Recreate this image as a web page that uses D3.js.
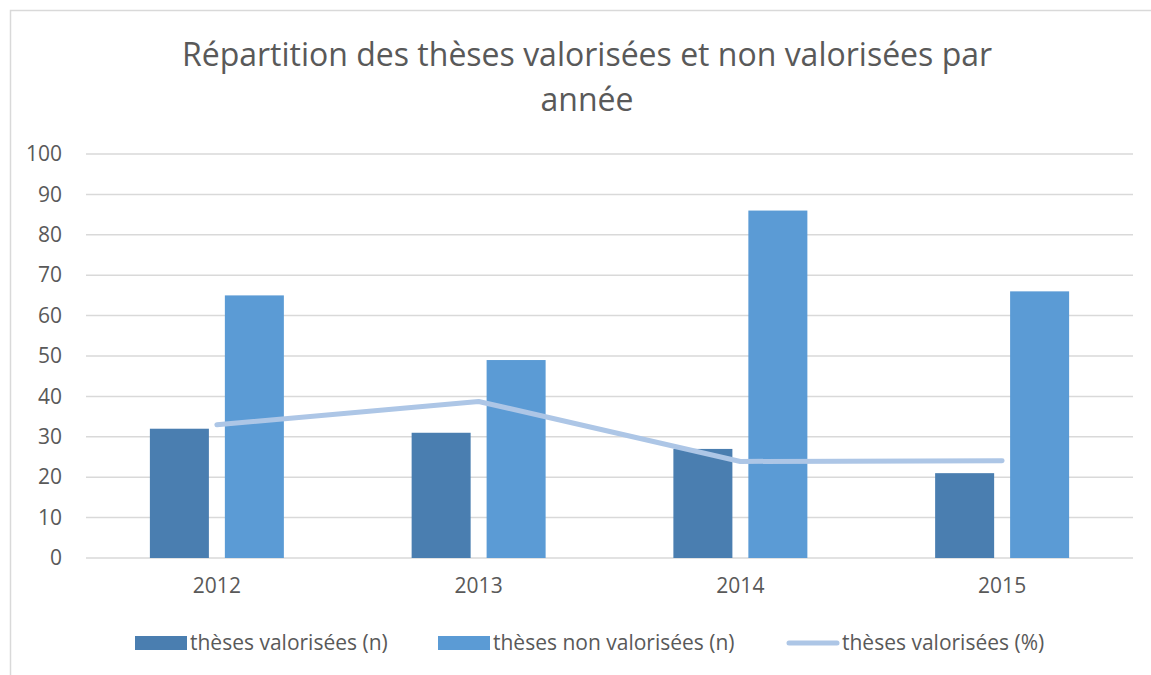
<!DOCTYPE html>
<html><head><meta charset="utf-8">
<script src="https://cdn.jsdelivr.net/npm/d3@7"></script>
<style>body{margin:0;background:#fff}svg{display:block}</style>
</head><body>
<svg id="c" width="1151" height="675"></svg>
<script>
const categories = ["2012", "2013", "2014", "2015"];
const valorisees = [32, 31, 27, 21];
const nonValorisees = [65, 49, 86, 66];
const pctValorisees = [33.0, 38.75, 23.9, 24.1];
const yTicks = [0, 10, 20, 30, 40, 50, 60, 70, 80, 90, 100];
const seriesNames = ["thèses valorisées (n)", "thèses non valorisées (n)", "thèses valorisées (%)"];
const titleLines = ["Répartition des thèses valorisées et non valorisées par", "année"];

const svg = d3.select("#c");
const font = "'Open Sans', sans-serif";
const textCol = "#595959";
const gridCol = "#d9d9d9";
const colDark = "#4a7eb0";
const colLight = "#5b9bd5";
const colLine = "#adc6e6";

svg.append("rect").attr("x", 10.5).attr("y", 10.5).attr("width", 1300).attr("height", 800)
  .attr("fill", "#fff").attr("stroke", gridCol).attr("stroke-width", 1.5);

const x = d3.scaleBand().domain(categories).range([86, 1133]).padding(0);
const xi = d3.scaleBand().domain([0, 1]).range([0, x.bandwidth()]).paddingInner(0.213).paddingOuter(0.852);
const y = d3.scaleLinear().domain([0, 100]).range([558, 154]);

// title
svg.append("g").selectAll("text").data(titleLines).join("text")
  .attr("x", 587).attr("y", (d, i) => 66 + i * 45)
  .attr("text-anchor", "middle").attr("font-family", font).attr("font-size", 32)
  .attr("fill", textCol).text(d => d);

// grid
svg.append("g").selectAll("line").data(yTicks).join("line")
  .attr("x1", 86).attr("x2", 1133).attr("y1", d => y(d)).attr("y2", d => y(d))
  .attr("stroke", gridCol).attr("stroke-width", 1.5);

// y axis labels
const yAxis = d3.axisLeft(y).tickValues(yTicks).tickSize(0).tickPadding(0);
const gy = svg.append("g").attr("transform", "translate(62,0)").call(yAxis);
gy.select(".domain").remove();
gy.selectAll("text").attr("font-family", font).attr("font-size", 21).attr("fill", textCol);

// x axis labels
const xAxis = d3.axisBottom(x).tickSize(0).tickPadding(0);
const gx = svg.append("g").attr("transform", "translate(0,578)").call(xAxis);
gx.select(".domain").remove();
gx.selectAll("text").attr("font-family", font).attr("font-size", 21).attr("fill", textCol);

// bars
const barData = [valorisees, nonValorisees];
const barCols = [colDark, colLight];
barData.forEach((vals, si) => {
  svg.append("g").selectAll("rect").data(vals).join("rect")
    .attr("x", (d, i) => x(categories[i]) + xi(si))
    .attr("width", xi.bandwidth())
    .attr("y", d => y(d)).attr("height", d => y(0) - y(d))
    .attr("fill", barCols[si]);
});

// line
const line = d3.line().x((d, i) => x(categories[i]) + x.bandwidth() / 2).y(d => y(d));
svg.append("path").datum(pctValorisees).attr("d", line)
  .attr("fill", "none").attr("stroke", colLine).attr("stroke-width", 5)
  .attr("stroke-linecap", "round").attr("stroke-linejoin", "round");

// legend
const lg = svg.append("g");
const legendX = [135, 438, 787];
seriesNames.forEach((name, i) => {
  if (i < 2) {
    lg.append("rect").attr("x", legendX[i]).attr("y", 636).attr("width", 52).attr("height", 14).attr("fill", barCols[i]);
  } else {
    lg.append("line").attr("x1", legendX[i] + 2).attr("x2", legendX[i] + 50).attr("y1", 643).attr("y2", 643)
      .attr("stroke", colLine).attr("stroke-width", 5).attr("stroke-linecap", "round");
  }
  lg.append("text").attr("x", legendX[i] + 55).attr("y", 650)
    .attr("font-family", font).attr("font-size", 21).attr("fill", textCol).text(name);
});
</script>
</body></html>
